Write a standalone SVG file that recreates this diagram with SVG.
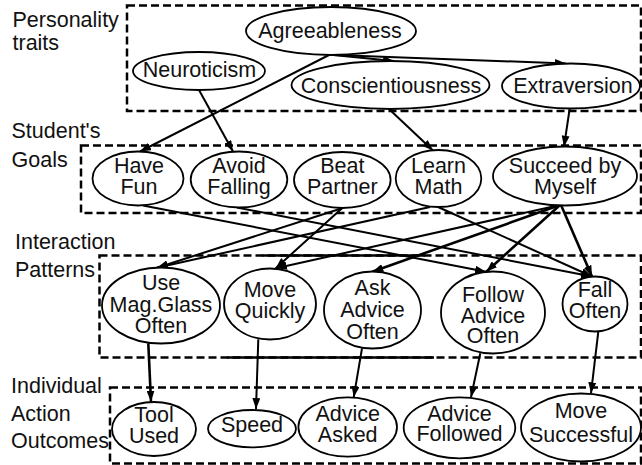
<svg xmlns="http://www.w3.org/2000/svg" width="642" height="465" viewBox="0 0 642 465">
<defs>
<marker id="ah" markerUnits="userSpaceOnUse" markerWidth="11" markerHeight="8" refX="11" refY="4" orient="auto">
<path d="M0,0 L11,4 L0,8 z" fill="#000"/>
</marker>
<style>
.box{fill:none;stroke:#000;stroke-width:2.5;stroke-dasharray:8 4}
.solid{stroke:#000;stroke-width:2.5}
.n ellipse{fill:#fff;stroke:#000;stroke-width:1.8}
text{font-family:"Liberation Sans",Arial,sans-serif;font-size:21.5px;fill:#111}
.n text{text-anchor:middle}
.e line{stroke:#000;stroke-width:2;marker-end:url(#ah)}
.e .b{stroke-width:2.6}
</style>
</defs>
<rect width="642" height="465" fill="#fff"/>

<g id="layers">
<rect class="box" x="127" y="5.5" width="514" height="105.5"/>
<rect class="box" x="81" y="145.5" width="560" height="67.5"/>
<rect class="box" x="99.5" y="255.5" width="541.5" height="102"/>
<line class="solid" x1="262" y1="255.5" x2="425" y2="255.5"/>
<line class="solid" x1="227" y1="357.5" x2="434" y2="357.5"/>
<rect class="box" x="110" y="387.5" width="531" height="76"/>
<text x="12.5" y="26.5">Personality</text>
<text x="12.5" y="50">traits</text>
<text x="11.5" y="138">Student's</text>
<text x="11.5" y="167">Goals</text>
<text x="15" y="249">Interaction</text>
<text x="15" y="276.5">Patterns</text>
<text x="11" y="393">Individual</text>
<text x="11" y="420.5">Action</text>
<text x="11" y="448">Outcomes</text>
</g>

<g id="edges" class="e">
<line x1="329" y1="55" x2="140" y2="151.5"/>
<line x1="199" y1="90" x2="233" y2="151.5"/>
<line x1="389" y1="109" x2="433" y2="150.5"/>
<line x1="569.7" y1="108.5" x2="564" y2="146.7"/>
<line x1="333" y1="55" x2="394" y2="61"/>
<line x1="335" y1="55" x2="566" y2="63.5"/>
<line x1="143" y1="205.5" x2="486" y2="271.7"/>
<line x1="237" y1="207.5" x2="592" y2="276.5"/>
<line x1="342" y1="208.3" x2="157" y2="267.7"/>
<line x1="342" y1="208.3" x2="275.7" y2="268.3"/>
<line x1="430" y1="207" x2="157" y2="267.7"/>
<line x1="438" y1="207" x2="592" y2="276.5"/>
<line x1="560" y1="205" x2="276" y2="268.3"/>
<line class="b" x1="560" y1="205" x2="372.3" y2="271.7"/>
<line class="b" x1="560" y1="205" x2="486.3" y2="271.7"/>
<line class="b" x1="561" y1="205" x2="592" y2="276.5"/>
<line class="b" x1="148.3" y1="343.3" x2="151" y2="401.7"/>
<line x1="258.3" y1="339.3" x2="256" y2="409"/>
<line x1="362" y1="348.3" x2="353.7" y2="397.3"/>
<line x1="480.3" y1="353.3" x2="471" y2="397.3"/>
<line x1="598.3" y1="331.7" x2="591" y2="393.3"/>
</g>

<g id="agreeableness" class="n"><ellipse cx="331" cy="31" rx="85" ry="24"/><text x="330" y="37.5">Agreeableness</text></g>
<g id="neuroticism" class="n"><ellipse cx="199" cy="71" rx="66" ry="19"/><text x="199.5" y="76.5">Neuroticism</text></g>
<g id="conscientiousness" class="n"><ellipse cx="390.5" cy="85" rx="99" ry="24"/><text x="391" y="92.5">Conscientiousness</text></g>
<g id="extraversion" class="n"><ellipse cx="571" cy="86" rx="69" ry="22.5"/><text x="573" y="92.5">Extraversion</text></g>

<g id="have-fun" class="n"><ellipse cx="138" cy="178.5" rx="45.5" ry="27"/><text x="139" y="173.3">Have</text><text x="139" y="194.3">Fun</text></g>
<g id="avoid-falling" class="n"><ellipse cx="239" cy="179.5" rx="48.3" ry="28"/><text x="239" y="173.3">Avoid</text><text x="239" y="194.3">Falling</text></g>
<g id="beat-partner" class="n"><ellipse cx="342.3" cy="180" rx="48.3" ry="28"/><text x="342.3" y="173.3">Beat</text><text x="342.3" y="194.3">Partner</text></g>
<g id="learn-math" class="n"><ellipse cx="438.5" cy="178.5" rx="42.8" ry="28.5"/><text x="438.5" y="173.3">Learn</text><text x="438.5" y="194.3">Math</text></g>
<g id="succeed-by-myself" class="n"><ellipse cx="565" cy="176" rx="72" ry="29.5"/><text x="565" y="173.3">Succeed by</text><text x="565" y="194.3">Myself</text></g>

<g id="use-mag-glass-often" class="n"><ellipse cx="161" cy="305.5" rx="59" ry="38"/><text x="161" y="290">Use</text><text x="161" y="311.7">Mag.Glass</text><text x="161" y="333.3">Often</text></g>
<g id="move-quickly" class="n"><ellipse cx="270" cy="304" rx="46" ry="35.5"/><text x="270" y="296.7">Move</text><text x="270" y="318">Quickly</text></g>
<g id="ask-advice-often" class="n"><ellipse cx="372.5" cy="310" rx="48.5" ry="38.5"/><text x="372.5" y="295">Ask</text><text x="372.5" y="317">Advice</text><text x="372.5" y="339">Often</text></g>
<g id="follow-advice-often" class="n"><ellipse cx="493" cy="312.5" rx="52" ry="41"/><text x="493" y="301.7">Follow</text><text x="493" y="322.5">Advice</text><text x="493" y="343.3">Often</text></g>
<g id="fall-often" class="n"><ellipse cx="595" cy="304" rx="32.5" ry="27.5"/><text x="595" y="296.7">Fall</text><text x="595" y="318">Often</text></g>

<g id="tool-used" class="n"><ellipse cx="154" cy="429" rx="42" ry="27"/><text x="154" y="421.7">Tool</text><text x="154" y="442.7">Used</text></g>
<g id="speed" class="n"><ellipse cx="252" cy="428.7" rx="44" ry="18.7"/><text x="252" y="431.7">Speed</text></g>
<g id="advice-asked" class="n"><ellipse cx="347.7" cy="427" rx="49.3" ry="29.7"/><text x="347.7" y="421">Advice</text><text x="347.7" y="442.3">Asked</text></g>
<g id="advice-followed" class="n"><ellipse cx="459.5" cy="427.8" rx="55.8" ry="30.5"/><text x="459.5" y="420.7">Advice</text><text x="459.5" y="441">Followed</text></g>
<g id="move-successful" class="n"><ellipse cx="581" cy="427.5" rx="60" ry="34"/><text x="581" y="418.3">Move</text><text x="581" y="441.7">Successful</text></g>
</svg>
